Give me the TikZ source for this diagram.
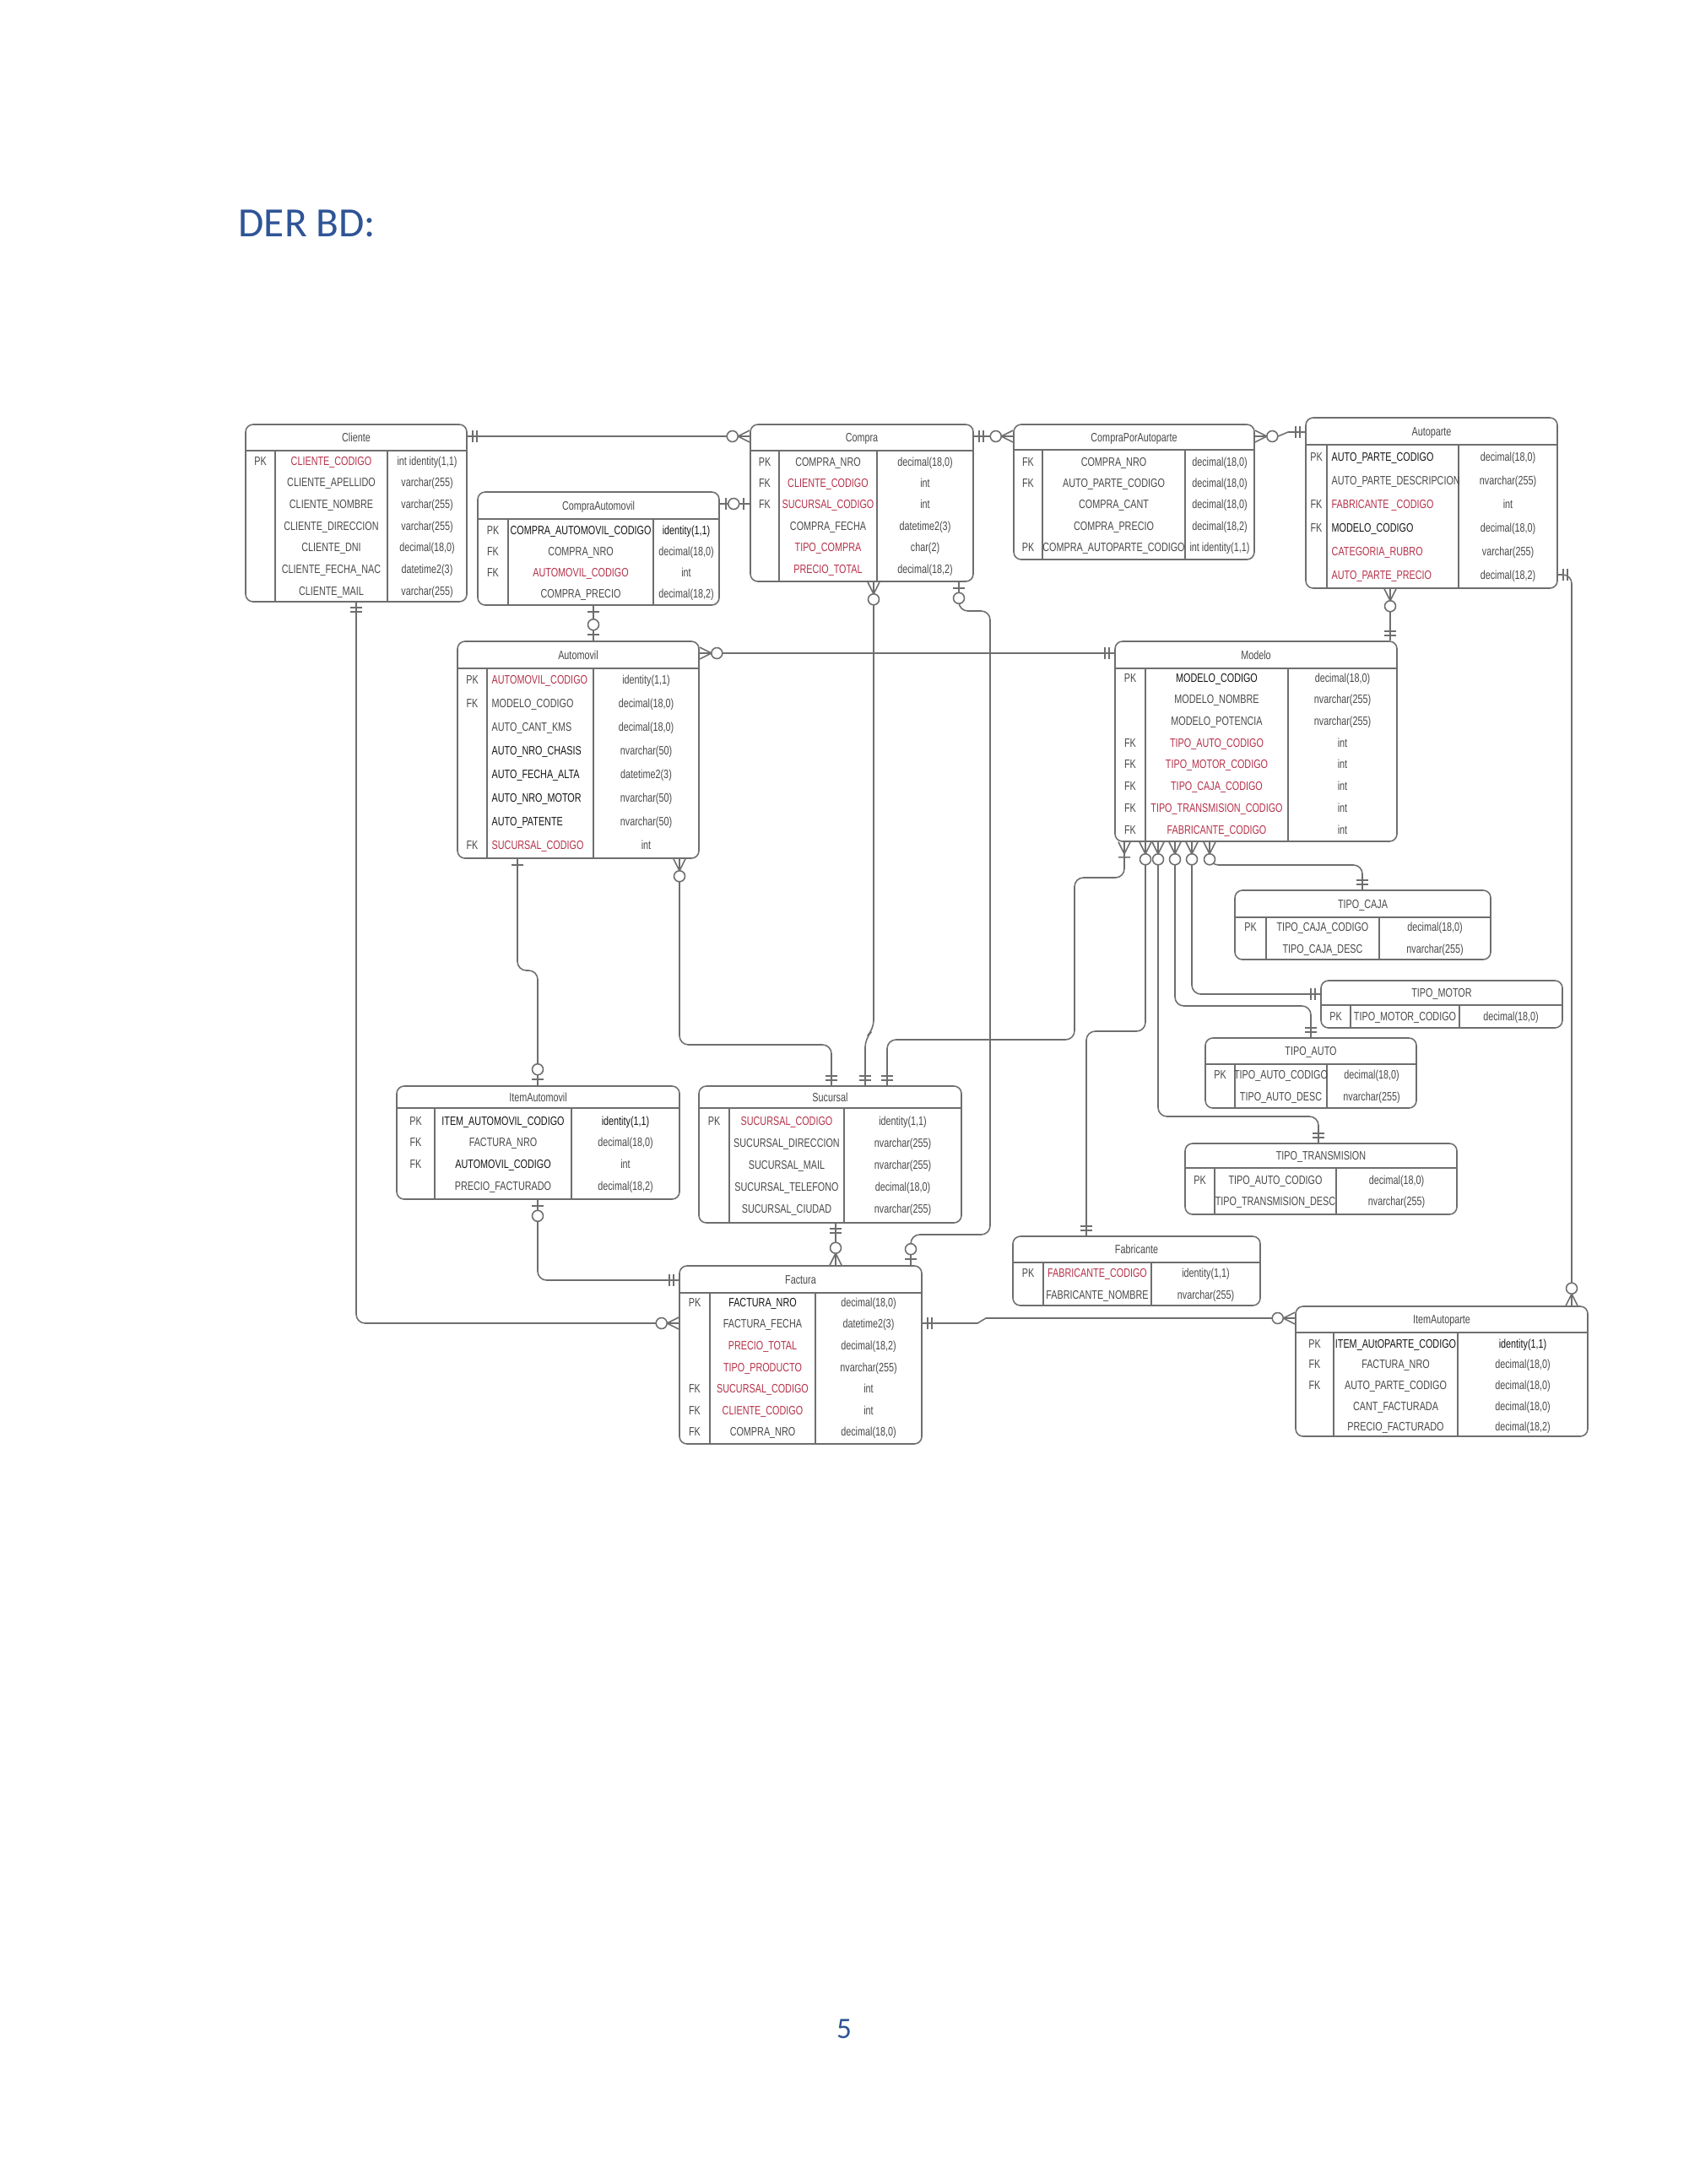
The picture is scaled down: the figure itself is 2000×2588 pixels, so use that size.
\documentclass[tikz,border=0pt]{standalone}
\usepackage{fontspec}
\setmainfont{Carlito}
\newfontfamily\erfont[FakeStretch=0.75]{Liberation Sans}
\usetikzlibrary{fit}
\definecolor{docblue}{RGB}{47,84,150}
\definecolor{cN}{RGB}{72,72,72}
\definecolor{cB}{RGB}{20,20,20}
\definecolor{cR}{RGB}{180,48,72}
\definecolor{lineg}{RGB}{110,110,110}
\tikzset{
  tbl/.style={draw=lineg, line width=0.45pt, rounded corners=2.5pt, inner sep=0pt},
  sep/.style={draw=lineg, line width=0.4pt},
  fld/.style={font=\erfont\fontsize{4.1}{5}\selectfont, text=cN, inner sep=0pt, text height=2.95pt, text depth=0pt},
  conn/.style={draw=lineg, line width=0.45pt},
  pics/one/.style={code={\draw[conn] (-6,-7) -- (-6,7) (-11,-7) -- (-11,7);}},
  pics/obar/.style={code={\draw[conn] (-7,-7) -- (-7,7);}},
  pics/zone/.style={code={\draw[conn] (-7,-7) -- (-7,7); \draw[conn, fill=white] (-19,0) circle (6.5);}},
  pics/zmany/.style={code={\draw[conn] (-14,0) -- (0,-7) (-14,0) -- (0,7); \draw[conn, fill=white] (-20.5,0) circle (6.5);}},
  pics/omany/.style={code={\draw[conn] (-14,0) -- (0,-7) (-14,0) -- (0,7) (-18,-7) -- (-18,7);}}
}
\newcommand{\ertable}[9]{%
  \node[tbl, fit={(#2,#3) (#4,#5)}] (#1) {};
  \draw[sep] (#2,#6) -- (#4,#6) (#7,#6) -- (#7,#5) (#8,#6) -- (#8,#5);
  \node[fld] at ({(#2+#4)/2},{(#3+#6)/2}) {#9};
}
\newcommand{\errows}[8]{%
  \foreach \k/\f/\t/\c [count=\i from 0] in {#8}{
    \pgfmathsetmacro\yy{#5+\i*#6}
    \node[fld] at ({(#1+#2)/2},\yy) {\k};
    \if#7l\node[fld, anchor=west, text=\c] at (#2+5,\yy) {\f};
    \else\node[fld, text=\c] at ({(#2+#3)/2},\yy) {\f};\fi
    \node[fld] at ({(#3+#4)/2},\yy) {\t};
  }
}
\begin{document}
\begin{tikzpicture}[x=0.01cm, y=-0.01cm]
\useasboundingbox (0,0) rectangle (2000,2588);
\node[anchor=base west, font=\fontsize{14}{16}\selectfont, text=docblue, inner sep=0pt] (title) at (282,280) {DER BD:};
\node[anchor=base, font=\fontsize{10}{12}\selectfont, text=docblue, inner sep=0pt] (pagenum) at (1000,2415) {5};

\ertable{cliente}{291}{503}{553}{713}{534}{326}{459}{Cliente}
\errows{291}{326}{459}{553}{546}{25.7}{c}{PK/CLIENTE\_CODIGO/{int identity(1,1)}/cR,
 /CLIENTE\_APELLIDO/{varchar(255)}/cN,
 /CLIENTE\_NOMBRE/{varchar(255)}/cN,
 /CLIENTE\_DIRECCION/{varchar(255)}/cN,
 /CLIENTE\_DNI/{decimal(18,0)}/cN,
 /CLIENTE\_FECHA\_NAC/{datetime2(3)}/cN,
 /CLIENTE\_MAIL/{varchar(255)}/cN}

\ertable{compraauto}{566}{583}{852}{717}{615}{602}{774}{CompraAutomovil}
\errows{566}{602}{774}{852}{628}{25}{c}{PK/COMPRA\_AUTOMOVIL\_CODIGO/{\textcolor{cB}{identity(1,1)}}/cB,
 FK/COMPRA\_NRO/{decimal(18,0)}/cN,
 FK/AUTOMOVIL\_CODIGO/int/cR,
 /COMPRA\_PRECIO/{decimal(18,2)}/cN}

\ertable{compra}{889}{503}{1153}{689}{534}{923}{1039}{Compra}
\errows{889}{923}{1039}{1153}{547}{25.4}{c}{PK/COMPRA\_NRO/{decimal(18,0)}/cN,
 FK/CLIENTE\_CODIGO/int/cR,
 FK/SUCURSAL\_CODIGO/int/cR,
 /COMPRA\_FECHA/{datetime2(3)}/cN,
 /TIPO\_COMPRA/{char(2)}/cR,
 /PRECIO\_TOTAL/{decimal(18,2)}/cR}

\ertable{cpa}{1201}{503}{1486}{663}{533}{1235}{1404}{CompraPorAutoparte}
\errows{1201}{1235}{1404}{1486}{547}{25.3}{c}{FK/COMPRA\_NRO/{decimal(18,0)}/cN,
 FK/AUTO\_PARTE\_CODIGO/{decimal(18,0)}/cN,
 /COMPRA\_CANT/{decimal(18,0)}/cN,
 /COMPRA\_PRECIO/{decimal(18,2)}/cN,
 PK/COMPRA\_AUTOPARTE\_CODIGO/{int identity(1,1)}/cN}

\ertable{autoparte}{1547}{495}{1845}{697}{527}{1572}{1728}{Autoparte}
\errows{1547}{1572}{1728}{1845}{541}{28}{l}{PK/AUTO\_PARTE\_CODIGO/{decimal(18,0)}/cB,
 /AUTO\_PARTE\_DESCRIPCION/{nvarchar(255)}/cN,
 FK/FABRICANTE \_CODIGO/int/cR,
 FK/MODELO\_CODIGO/{decimal(18,0)}/cB,
 /CATEGORIA\_RUBRO/{varchar(255)}/cR,
 /AUTO\_PARTE\_PRECIO/{decimal(18,2)}/cR}

\ertable{automovil}{542}{760}{828}{1017}{792}{577}{703}{Automovil}
\errows{542}{577}{703}{828}{805}{28.1}{l}{PK/AUTOMOVIL\_CODIGO/{identity(1,1)}/cR,
 FK/MODELO\_CODIGO/{decimal(18,0)}/cN,
 /AUTO\_CANT\_KMS/{decimal(18,0)}/cN,
 /AUTO\_NRO\_CHASIS/{nvarchar(50)}/cB,
 /AUTO\_FECHA\_ALTA/{datetime2(3)}/cB,
 /AUTO\_NRO\_MOTOR/{nvarchar(50)}/cB,
 /AUTO\_PATENTE/{nvarchar(50)}/cB,
 FK/SUCURSAL\_CODIGO/int/cR}

\ertable{modelo}{1321}{760}{1655}{997}{792}{1357}{1526}{Modelo}
\errows{1321}{1357}{1526}{1655}{803}{25.7}{c}{PK/MODELO\_CODIGO/{decimal(18,0)}/cB,
 /MODELO\_NOMBRE/{nvarchar(255)}/cN,
 /MODELO\_POTENCIA/{nvarchar(255)}/cN,
 FK/TIPO\_AUTO\_CODIGO/int/cR,
 FK/TIPO\_MOTOR\_CODIGO/int/cR,
 FK/TIPO\_CAJA\_CODIGO/int/cR,
 FK/TIPO\_TRANSMISION\_CODIGO/int/cR,
 FK/FABRICANTE\_CODIGO/int/cR}

\ertable{tipocaja}{1463}{1055}{1766}{1137}{1087}{1500}{1634}{TIPO\_CAJA}
\errows{1463}{1500}{1634}{1766}{1098}{26}{c}{PK/TIPO\_CAJA\_CODIGO/{decimal(18,0)}/cN,
 /TIPO\_CAJA\_DESC/{nvarchar(255)}/cN}

\ertable{tipomotor}{1565}{1162}{1851}{1218}{1191}{1600}{1729}{TIPO\_MOTOR}
\errows{1565}{1600}{1729}{1851}{1204}{26}{c}{PK/TIPO\_MOTOR\_CODIGO/{decimal(18,0)}/cN}

\ertable{tipoauto}{1428}{1230}{1678}{1313}{1261}{1463}{1572}{TIPO\_AUTO}
\errows{1428}{1463}{1572}{1678}{1273}{26}{c}{PK/TIPO\_AUTO\_CODIGO/{decimal(18,0)}/cN,
 /TIPO\_AUTO\_DESC/{nvarchar(255)}/cN}

\ertable{tipotrans}{1404}{1355}{1726}{1439}{1384}{1439}{1583}{TIPO\_TRANSMISION}
\errows{1404}{1439}{1583}{1726}{1398}{25}{c}{PK/TIPO\_AUTO\_CODIGO/{decimal(18,0)}/cN,
 /TIPO\_TRANSMISION\_DESC/{nvarchar(255)}/cN}

\ertable{itemauto}{470}{1287}{805}{1421}{1313}{515}{677}{ItemAutomovil}
\errows{470}{515}{677}{805}{1328}{25.6}{c}{PK/ITEM\_AUTOMOVIL\_CODIGO/{\textcolor{cB}{identity(1,1)}}/cB,
 FK/FACTURA\_NRO/{decimal(18,0)}/cN,
 FK/AUTOMOVIL\_CODIGO/int/cB,
 /PRECIO\_FACTURADO/{decimal(18,2)}/cN}

\ertable{sucursal}{828}{1287}{1139}{1449}{1313}{864}{1000}{Sucursal}
\errows{828}{864}{1000}{1139}{1328}{26}{c}{PK/SUCURSAL\_CODIGO/{identity(1,1)}/cR,
 /SUCURSAL\_DIRECCION/{nvarchar(255)}/cN,
 /SUCURSAL\_MAIL/{nvarchar(255)}/cN,
 /SUCURSAL\_TELEFONO/{decimal(18,0)}/cN,
 /SUCURSAL\_CIUDAD/{nvarchar(255)}/cN}

\ertable{factura}{805}{1500}{1092}{1711}{1532}{841}{966}{Factura}
\errows{805}{841}{966}{1092}{1543}{25.6}{c}{PK/FACTURA\_NRO/{decimal(18,0)}/cB,
 /FACTURA\_FECHA/{datetime2(3)}/cN,
 /PRECIO\_TOTAL/{decimal(18,2)}/cR,
 /TIPO\_PRODUCTO/{nvarchar(255)}/cR,
 FK/SUCURSAL\_CODIGO/int/cR,
 FK/CLIENTE\_CODIGO/int/cR,
 FK/COMPRA\_NRO/{decimal(18,0)}/cN}

\ertable{fabricante}{1200}{1465}{1493}{1547}{1496}{1236}{1364}{Fabricante}
\errows{1200}{1236}{1364}{1493}{1508}{26}{c}{PK/FABRICANTE\_CODIGO/{identity(1,1)}/cR,
 /FABRICANTE\_NOMBRE/{nvarchar(255)}/cN}

\ertable{itemautoparte}{1535}{1548}{1881}{1702}{1579}{1580}{1727}{ItemAutoparte}
\errows{1535}{1580}{1727}{1881}{1592}{24.6}{c}{PK/ITEM\_AUtOPARTE\_CODIGO/{\textcolor{cB}{identity(1,1)}}/cB,
 FK/FACTURA\_NRO/{decimal(18,0)}/cN,
 FK/AUTO\_PARTE\_CODIGO/{decimal(18,0)}/cN,
 /CANT\_FACTURADA/{decimal(18,0)}/cN,
 /PRECIO\_FACTURADO/{decimal(18,2)}/cN}

\draw[conn] (cliente.east |- 0,517) -- (compra.west |- 0,517);
\pic[rotate=180] at (cliente.east |- 0,517) {one};
\pic at (compra.west |- 0,517) {zmany};

\draw[conn, rounded corners=3pt] (cliente.south -| 422,0) |- (factura.west |- 0,1568);
\pic[rotate=90] at (cliente.south -| 422,0) {one};
\pic at (factura.west |- 0,1568) {zmany};

\draw[conn] (compraauto.east |- 0,597) -- (compra.west |- 0,597);
\pic[rotate=180] at (compraauto.east |- 0,597) {obar};
\pic at (compra.west |- 0,597) {zone};

\draw[conn] (compraauto.south -| 703,0) -- (automovil.north -| 703,0);
\pic[rotate=90] at (compraauto.south -| 703,0) {obar};
\pic[rotate=-90] at (automovil.north -| 703,0) {zone};

\draw[conn, rounded corners=3pt] (compra.south -| 1035,0) -- (1035,1220) -- (1025,1230) -- (sucursal.north -| 1025,0);
\pic[rotate=90] at (compra.south -| 1035,0) {zmany};
\pic[rotate=-90] at (sucursal.north -| 1025,0) {one};

\draw[conn, rounded corners=3pt] (compra.south -| 1136,0) |- (1173,724) |- (1079,1463) -- (factura.north -| 1079,0);
\pic[rotate=90] at (compra.south -| 1136,0) {zone};
\pic[rotate=-90] at (factura.north -| 1079,0) {zone};

\draw[conn] (compra.east |- 0,517) -- (cpa.west |- 0,517);
\pic[rotate=180] at (compra.east |- 0,517) {one};
\pic at (cpa.west |- 0,517) {zmany};

\draw[conn] (cpa.east |- 0,517) -- (1514,517) -- (1526,512) -- (autoparte.west |- 0,512);
\pic[rotate=180] at (cpa.east |- 0,517) {zmany};
\pic at (autoparte.west |- 0,512) {one};

\draw[conn, rounded corners=3pt] (autoparte.east |- 0,681) -| (itemautoparte.north -| 1862,0);
\pic[rotate=180] at (autoparte.east |- 0,681) {one};
\pic[rotate=-90] at (itemautoparte.north -| 1862,0) {zmany};

\draw[conn] (autoparte.south -| 1647,0) -- (modelo.north -| 1647,0);
\pic[rotate=90] at (autoparte.south -| 1647,0) {zmany};
\pic[rotate=-90] at (modelo.north -| 1647,0) {one};

\draw[conn] (automovil.east |- 0,774) -- (modelo.west |- 0,774);
\pic[rotate=180] at (automovil.east |- 0,774) {zmany};
\pic at (modelo.west |- 0,774) {one};

\draw[conn, rounded corners=3pt] (automovil.south -| 613,0) |- (637,1150) -- (itemauto.north -| 637,0);
\pic[rotate=90] at (automovil.south -| 613,0) {obar};
\pic[rotate=-90] at (itemauto.north -| 637,0) {zone};

\draw[conn, rounded corners=3pt] (automovil.south -| 805,0) |- (985,1238) -- (sucursal.north -| 985,0);
\pic[rotate=90] at (automovil.south -| 805,0) {zmany};
\pic[rotate=-90] at (sucursal.north -| 985,0) {one};

\draw[conn, rounded corners=3pt] (modelo.south -| 1332,0) |- (1273,1040) |- (1051,1232) -- (sucursal.north -| 1051,0);
\pic[rotate=90] at (modelo.south -| 1332,0) {omany};
\pic[rotate=-90] at (sucursal.north -| 1051,0) {one};

\draw[conn, rounded corners=3pt] (modelo.south -| 1357,0) |- (1287,1222) -- (fabricante.north -| 1287,0);
\draw[conn, rounded corners=3pt] (modelo.south -| 1372,0) |- (1562,1323) -- (tipotrans.north -| 1562,0);
\draw[conn, rounded corners=3pt] (modelo.south -| 1392,0) |- (1553,1192) -- (tipoauto.north -| 1553,0);
\draw[conn, rounded corners=3pt] (modelo.south -| 1412,0) |- (tipomotor.west |- 0,1178);
\draw[conn, rounded corners=3pt] (modelo.south -| 1433,0) |- (1614,1025) -- (tipocaja.north -| 1614,0);
\foreach \x in {1357,1372,1392,1412,1433}
  \pic[rotate=90] at (modelo.south -| \x,0) {zmany};
\pic[rotate=-90] at (fabricante.north -| 1287,0) {one};
\pic[rotate=-90] at (tipotrans.north -| 1562,0) {one};
\pic[rotate=-90] at (tipoauto.north -| 1553,0) {one};
\pic at (tipomotor.west |- 0,1178) {one};
\pic[rotate=-90] at (tipocaja.north -| 1614,0) {one};

\draw[conn] (sucursal.south -| 990,0) -- (factura.north -| 990,0);
\pic[rotate=90] at (sucursal.south -| 990,0) {one};
\pic[rotate=-90] at (factura.north -| 990,0) {zmany};

\draw[conn, rounded corners=3pt] (itemauto.south -| 637,0) |- (factura.west |- 0,1517);
\pic[rotate=90] at (itemauto.south -| 637,0) {zone};
\pic at (factura.west |- 0,1517) {one};

\draw[conn] (factura.east |- 0,1568) -- (1158,1568) -- (1168,1562) -- (itemautoparte.west |- 0,1562);
\pic[rotate=180] at (factura.east |- 0,1568) {one};
\pic at (itemautoparte.west |- 0,1562) {zmany};
\end{tikzpicture}
\end{document}
